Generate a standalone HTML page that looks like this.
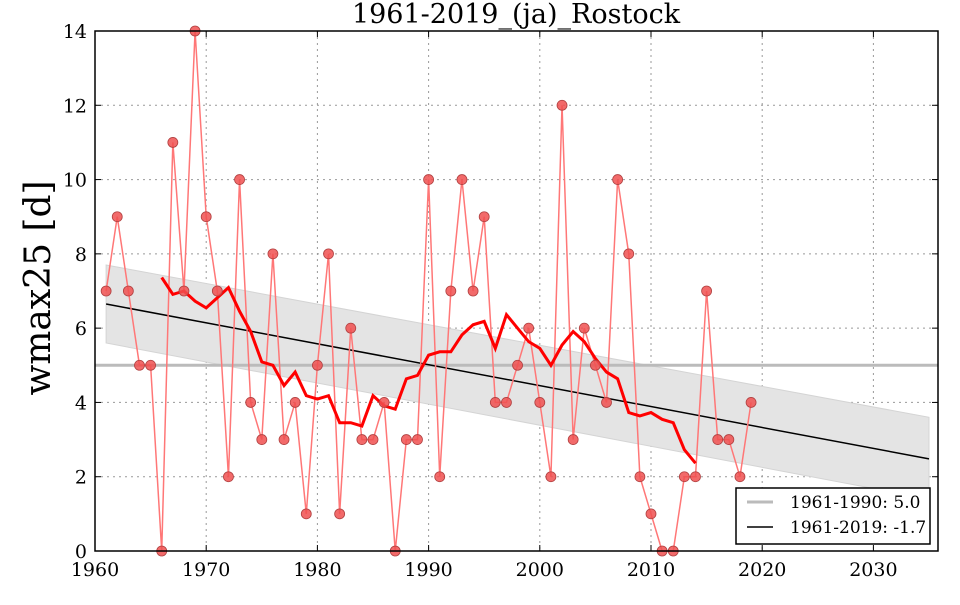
<!DOCTYPE html>
<html><head><meta charset="utf-8"><style>
html,body{margin:0;padding:0;background:#fff;}
svg text{font-family:"DejaVu Serif","Liberation Serif",serif;}
</style></head><body>
<svg id="s" width="960" height="600" xmlns="http://www.w3.org/2000/svg"></svg>
<script>
const d=[7,9,7,5,5,0,11,7,14,9,7,2,10,4,3,8,3,4,1,5,8,1,6,3,3,4,0,3,3,10,2,7,10,7,9,4,4,5,6,4,2,12,3,6,5,4,10,8,2,1,0,0,2,2,7,3,3,2,4];
const X=y=>95+(y-1960)*11.12, Y=v=>551-v*37.143;
let h='';
for(let t=1970;t<=2030;t+=10)h+=`<line x1="${X(t)}" y1="31" x2="${X(t)}" y2="551" stroke="#999" stroke-dasharray="2,4" stroke-width="1"/>`;
for(let v=2;v<=12;v+=2)h+=`<line x1="95" y1="${Y(v)}" x2="938" y2="${Y(v)}" stroke="#999" stroke-dasharray="2,4" stroke-width="1"/>`;
h+=`<polygon points="${X(1961)},${Y(7.7)} ${X(2035)},${Y(3.6)} ${X(2035)},${Y(1.4)} ${X(1961)},${Y(5.6)}" fill="#e4e4e4" stroke="#d4d4d4"/>`;
h+=`<line x1="95" y1="${Y(5)}" x2="938" y2="${Y(5)}" stroke="#bbb" stroke-width="3"/>`;
h+=`<line x1="${X(1961)}" y1="${Y(6.65)}" x2="${X(2035)}" y2="${Y(2.48)}" stroke="#000" stroke-width="1.5"/>`;
h+=`<polyline fill="none" stroke="#ff7777" stroke-width="1.5" points="${d.map((v,i)=>X(1961+i)+','+Y(v)).join(' ')}"/>`;
let m=[];for(let i=5;i<d.length-5;i++){let s=0;for(let j=i-5;j<=i+5;j++)s+=d[j];m.push(X(1961+i)+','+Y(s/11));}
h+=`<polyline fill="none" stroke="#ff0000" stroke-width="3" points="${m.join(' ')}"/>`;
d.forEach((v,i)=>h+=`<circle cx="${X(1961+i)}" cy="${Y(v)}" r="5" fill="#f05050" fill-opacity="0.85" stroke="#b04040" stroke-width="0.8"/>`);
h+=`<rect x="95" y="31" width="843" height="520" fill="none" stroke="#000" stroke-width="1.5"/>`;
for(let t=1960;t<=2030;t+=10){h+=`<line x1="${X(t)}" y1="551" x2="${X(t)}" y2="545" stroke="#000"/><line x1="${X(t)}" y1="31" x2="${X(t)}" y2="37" stroke="#000"/><text x="${X(t)}" y="576" font-size="19" text-anchor="middle">${t}</text>`;}
for(let v=0;v<=14;v+=2){h+=`<line x1="95" y1="${Y(v)}" x2="101" y2="${Y(v)}" stroke="#000"/><line x1="938" y1="${Y(v)}" x2="932" y2="${Y(v)}" stroke="#000"/><text x="87" y="${Y(v)+7}" font-size="19" text-anchor="end">${v}</text>`;}
h+=`<text x="516" y="23" font-size="27" text-anchor="middle">1961-2019_(ja)_Rostock</text>`;
h+=`<text transform="translate(50,288) rotate(-90)" font-size="36" text-anchor="middle">wmax25 [d]</text>`;
h+=`<rect x="736" y="488" width="194" height="56" fill="#fff" stroke="#000" stroke-width="1.5"/>`;
h+=`<line x1="747" y1="502" x2="773" y2="502" stroke="#bbb" stroke-width="3"/><text x="790" y="508" font-size="17">1961-1990: 5.0</text>`;
h+=`<line x1="747" y1="527" x2="773" y2="527" stroke="#000" stroke-width="1.5"/><text x="790" y="533" font-size="17">1961-2019: -1.7</text>`;
document.getElementById('s').innerHTML=h;
</script>
</body></html>
